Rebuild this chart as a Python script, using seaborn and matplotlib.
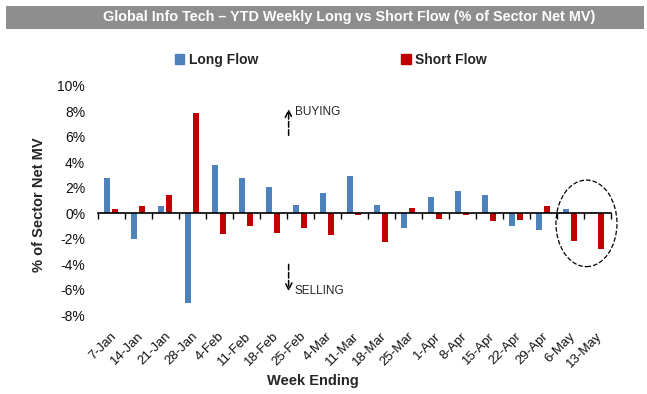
import numpy as np
import pandas as pd
import matplotlib
matplotlib.use("Agg")
import matplotlib.pyplot as plt
import matplotlib.transforms as mtransforms
from matplotlib.patches import Ellipse
from matplotlib.ticker import FuncFormatter
import seaborn as sns

# Weekly flows, % of sector net MV
WEEKS = ["7-Jan", "14-Jan", "21-Jan", "28-Jan", "4-Feb", "11-Feb", "18-Feb", "25-Feb",
         "4-Mar", "11-Mar", "18-Mar", "25-Mar", "1-Apr", "8-Apr", "15-Apr", "22-Apr",
         "29-Apr", "6-May", "13-May"]
LONG_FLOW = [2.8, -2.0, 0.55, -7.05, 3.75, 2.8, 2.05, 0.63, 1.55, 2.9, 0.63, -1.2,
             1.3, 1.72, 1.42, -1.0, -1.33, 0.34, 0.06]
SHORT_FLOW = [0.3, 0.6, 1.41, 7.88, -1.62, -1.0, -1.57, -1.15, -1.75, -0.15, -2.3, 0.42,
              -0.42, -0.18, -0.6, -0.52, 0.6, -2.22, -2.82]

SERIES = ["Long Flow", "Short Flow"]
COLORS = ["#4F81BD", "#C00000"]

df = pd.DataFrame({"week": WEEKS * 2,
                   "flow": LONG_FLOW + SHORT_FLOW,
                   "series": [SERIES[0]] * len(WEEKS) + [SERIES[1]] * len(WEEKS)})

sns.set_theme(style="white")
plt.rcParams["font.family"] = ["Liberation Sans", "DejaVu Sans"]

fig = plt.figure(figsize=(6.47, 3.94), dpi=100)
ax = fig.add_axes([0.151, 0.2005, 0.793, 0.5815])

sns.barplot(data=df, x="week", y="flow", hue="series", order=WEEKS, hue_order=SERIES,
            palette=COLORS, width=0.6, gap=0.25, saturation=1, linewidth=0,
            ax=ax, legend=False)

n = len(WEEKS)
ax.set_xlim(-0.5, n - 0.5)
ax.set_ylim(-8, 10)
ax.set_yticks(np.arange(-8, 11, 2))
ax.yaxis.set_major_formatter(FuncFormatter(lambda v, _: f"{v:.0f}%"))
ax.tick_params(axis="y", length=0, labelsize=10, pad=9, colors="#111111")

# zero axis line with tick marks between categories
for s in ["left", "right", "top"]:
    ax.spines[s].set_visible(False)
ax.spines["bottom"].set_position(("data", 0))
ax.spines["bottom"].set_color("black")
ax.spines["bottom"].set_linewidth(1.2)
ax.set_xticks(np.arange(n + 1) - 0.5)
ax.set_xticklabels([])
ax.tick_params(axis="x", direction="out", length=4, width=1, color="black", bottom=True)
ax.set_xlabel("")

# category labels along the bottom edge
sec = ax.secondary_xaxis("bottom")
sec.set_xticks(np.arange(n))
sec.set_xticklabels(WEEKS, rotation=45, ha="right", rotation_mode="anchor", fontsize=9.5,
                    color="#111111")
sec.tick_params(length=0, pad=11)
sec.spines["bottom"].set_visible(False)
shift = mtransforms.ScaledTranslation(-1 / 100, 0, fig.dpi_scale_trans)
for lab in sec.get_xticklabels():
    lab.set_transform(lab.get_transform() + shift)

fig.text(313 / 647, 1 - 381 / 394, "Week Ending", fontsize=10.5, fontweight="bold",
         ha="center", va="center")

ax.set_ylabel("% of Sector Net MV", fontsize=10.5, fontweight="bold")
ax.yaxis.set_label_coords(-0.1, 0.48)

# buying / selling arrows
ax.annotate("", xy=(6.57, 8.4), xytext=(6.57, 5.9),
            arrowprops=dict(arrowstyle="->", linestyle="--", color="black", lw=1.1))
ax.text(6.8, 7.95, "BUYING", fontsize=8.5, va="center", ha="left")
ax.annotate("", xy=(6.57, -6.35), xytext=(6.57, -3.8),
            arrowprops=dict(arrowstyle="->", linestyle="--", color="black", lw=1.1))
ax.text(6.8, -6.1, "SELLING", fontsize=8.5, va="center", ha="left")

ax.add_patch(Ellipse((17.6, -0.8), 2.26, 6.8, fill=False, linestyle="--",
                     edgecolor="black", lw=0.9, clip_on=False))

# legend
handles = [plt.Rectangle((0, 0), 1, 1, color=c) for c in COLORS]
fig.legend(handles, SERIES, loc="center", bbox_to_anchor=(0.511, 0.848), ncol=2,
           frameon=False, columnspacing=10.3, handlelength=0.7, handleheight=0.7,
           handletextpad=0.3, prop=dict(weight="bold", size=10))

# title bar
fig.patches.append(plt.Rectangle((0.009, 0.926), 0.986, 0.059, transform=fig.transFigure,
                                 facecolor="#8E8E8E", edgecolor="none"))
fig.text(0.539, 0.957, "Global Info Tech \u2013 YTD Weekly Long vs Short Flow (% of Sector Net MV)",
         color="white", fontsize=10.4, fontweight="bold", ha="center", va="center",
         family=["Liberation Sans Narrow", "Liberation Sans", "DejaVu Sans"])

fig.savefig("out.png", dpi=100, facecolor="white")
